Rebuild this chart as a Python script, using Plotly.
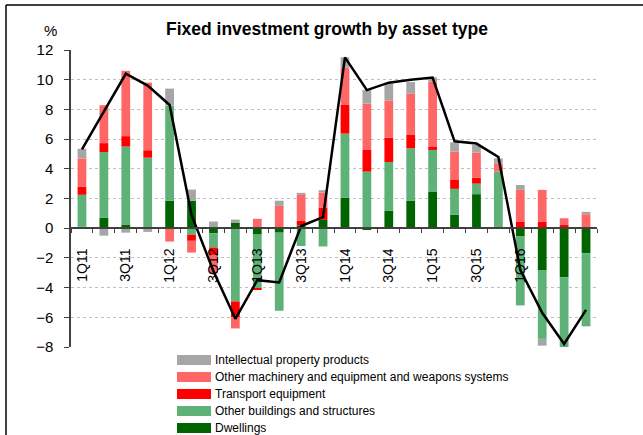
import plotly.graph_objects as go

# ── Data (percentage point contributions) ─────────────────────────────────────
quarters = [
    "1Q11", "2Q11", "3Q11", "4Q11", "1Q12", "2Q12", "3Q12", "4Q12",
    "1Q13", "2Q13", "3Q13", "4Q13", "1Q14", "2Q14", "3Q14", "4Q14",
    "1Q15", "2Q15", "3Q15", "4Q15", "1Q16", "2Q16", "3Q16", "4Q16",
]
tick_labels = ["1Q11", "3Q11", "1Q12", "3Q12", "1Q13", "3Q13",
               "1Q14", "3Q14", "1Q15", "3Q15", "1Q16"]

dwellings = [0.10, 0.70, 0.25, 0.05, 1.85, 1.85, -0.35, 0.35, -0.43, -0.30, 0.18, 0.56,
             2.04, -0.12, 1.19, 1.84, 2.47, 0.90, 2.29, 0.00, -0.56, -2.85, -3.30, -1.68]
other_buildings = [2.15, 4.43, 5.25, 4.70, 6.40, -0.45, -0.95, -4.93, -3.61, -5.26, -1.20, -1.23,
                   4.33, 3.81, 3.27, 3.54, 2.80, 1.75, 0.71, 3.81, -4.64, -4.60, -4.77, -4.93]
transport = [0.55, 0.60, 0.70, 0.50, 0.00, -0.40, -0.50, -1.06, -0.11, 0.00, 0.31, 0.83,
             1.93, 1.46, 1.64, 0.90, 0.20, 0.60, 0.39, 0.00, 0.45, 0.45, 0.22, 0.00]
other_machinery = [1.90, 2.55, 4.40, 4.55, -0.90, -0.79, -1.25, -0.76, 0.63, 1.50, 1.75, 1.01,
                   2.53, 3.12, 2.51, 2.80, 4.40, 1.91, 1.70, 0.56, 2.13, 2.13, 0.45, 0.94]
intellectual = [0.65, -0.50, -0.30, -0.25, 1.15, 0.75, 0.45, 0.23, 0.00, 0.35, 0.14, 0.16,
                0.67, 0.92, 1.14, 0.76, 0.29, 0.62, 0.51, 0.33, 0.33, -0.46, 0.00, 0.16]
total_growth = [5.3, 7.9, 10.4, 9.6, 8.3, 0.9, -2.9, -6.1, -3.5, -3.65, 0.15, 0.75,
                11.5, 9.3, 9.8, 10.0, 10.15, 5.85, 5.7, 4.8, -2.8, -5.7, -7.8, -5.5]

series = [
    ("Dwellings", dwellings, "#006400"),
    ("Other buildings and structures", other_buildings, "#5EB177"),
    ("Transport equipment", transport, "#FF0000"),
    ("Other machinery and equipment and weapons systems", other_machinery, "#FF6666"),
    ("Intellectual property products", intellectual, "#A6A6A6"),
]

# ── Geometry (pixels) ─────────────────────────────────────────────────────────
W, H = 643, 435
L, R, T, B = 71, 46, 50, 88
PW, PH = W - L - R, H - T - B


def px(x):
    return (x - L) / PW


def py(y):
    return (H - B - y) / PH


FONT = "Arial, Liberation Sans, sans-serif"
x_idx = list(range(len(quarters)))

fig = go.Figure()

for name, vals, color in series:
    fig.add_trace(go.Bar(
        x=x_idx, y=vals, name=name, marker=dict(color=color, line=dict(width=0)),
        showlegend=False,
    ))

fig.add_trace(go.Scatter(
    x=x_idx, y=total_growth, mode="lines", showlegend=False,
    line=dict(color="black", width=2.5),
))

# ── Frame, title, manual legend (wide swatches, IP on top) ───────────────────
shapes = [
    dict(type="line", xref="paper", yref="paper", x0=px(6), x1=px(W + 10),
         y0=py(5), y1=py(5), line=dict(color="black", width=1.5)),
    dict(type="line", xref="paper", yref="paper", x0=px(6), x1=px(6),
         y0=py(5), y1=py(H + 10), line=dict(color="black", width=1.5)),
]
annotations = [
    dict(text="<b>Fixed investment growth by asset type</b>", xref="paper", yref="paper",
         x=px(327), y=py(29), xanchor="center", yanchor="middle",
         showarrow=False, font=dict(size=17.5)),
    dict(text="%", xref="paper", yref="paper", x=px(50), y=py(30),
         xanchor="center", yanchor="middle", showarrow=False, font=dict(size=15)),
]
for i, (name, vals, color) in enumerate(reversed(series)):
    yc = 360 + i * 17
    shapes.append(dict(type="rect", xref="paper", yref="paper",
                       x0=px(177), x1=px(211), y0=py(yc - 5), y1=py(yc + 5),
                       fillcolor=color, line=dict(width=0)))
    annotations.append(dict(text=name, xref="paper", yref="paper",
                            x=px(213), y=py(yc), xanchor="left", yanchor="middle",
                            showarrow=False, font=dict(size=12)))

tick_pos = [quarters.index(t) for t in tick_labels]

fig.update_layout(
    width=W, height=H,
    margin=dict(l=L, r=R, t=T, b=B),
    barmode="relative",
    bargap=0.6,
    plot_bgcolor="white",
    paper_bgcolor="white",
    font=dict(family=FONT, size=14, color="black"),
    showlegend=False,
    xaxis=dict(
        range=[-0.5, len(quarters) - 0.5],
        anchor="free", position=8 / 20,
        tickmode="array", tickvals=tick_pos, ticktext=tick_labels,
        tickangle=-90, ticks="", ticklabelstandoff=14,
        showline=True, linecolor="#404040", linewidth=1.5,
        showgrid=False, zeroline=False,
        tickfont=dict(size=14),
        minor=dict(
            tickvals=[i - 0.5 for i in range(len(quarters) + 1)],
            ticks="outside", ticklen=4, tickcolor="#404040", tickwidth=1,
            showgrid=False,
        ),
    ),
    yaxis=dict(
        range=[-8, 12], dtick=2, tick0=0,
        ticks="outside", ticklen=5, tickcolor="#404040",
        showline=True, linecolor="#404040", linewidth=1.5,
        showgrid=True, gridcolor="#BFBFBF", griddash="dot", gridwidth=1,
        zeroline=False, tickfont=dict(size=15), ticklabelstandoff=8,
    ),
    annotations=annotations,
    shapes=shapes,
)

# page default body margin would shift the chart by 8px
fig.write_html("out.html", config={"displayModeBar": False},
               post_script="document.body.style.margin='0';")
